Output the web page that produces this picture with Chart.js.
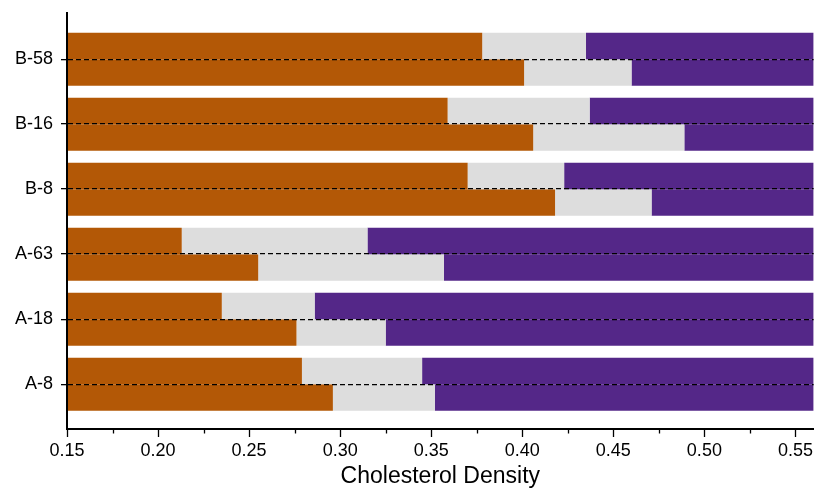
<!DOCTYPE html>
<html>
<head>
<meta charset="utf-8">
<script src="https://cdn.jsdelivr.net/npm/chart.js@4.4.0/dist/chart.umd.min.js"></script>
<style>
  html, body { margin: 0; padding: 0; background: #fff; }
  #wrap { width: 816px; height: 488px; }
</style>
</head>
<body>
<div id="wrap"><canvas id="graphe"></canvas></div>
<script>
// categories, top to bottom
const categories = ['B-58', 'B-16', 'B-8', 'A-63', 'A-18', 'A-8'];

// upper bar of each group: end of orange part, end of grey part
const orangeUpper = [0.378, 0.359, 0.370, 0.213, 0.235, 0.279];
const greyUpper = [0.435, 0.437, 0.423, 0.315, 0.286, 0.345];

// lower bar of each group
const orangeLower = [0.401, 0.406, 0.418, 0.255, 0.276, 0.296];
const greyLower = [0.460, 0.489, 0.471, 0.357, 0.325, 0.352];

const xMin = 0.15;
const xMax = 0.56;
const xTicks = [0.15, 0.20, 0.25, 0.30, 0.35, 0.40, 0.45, 0.50, 0.55];
const xMinorTicks = [0.175, 0.225, 0.275, 0.325, 0.375, 0.425, 0.475, 0.525];

const ORANGE = 'rgb(179, 88, 6)';
const GREY = 'rgb(221, 221, 221)';
const PURPLE = 'rgb(84, 39, 136)';
const POLICE = "'Liberation Sans', Arial, sans-serif";

function segments(debut, fin) {
    return categories.map(function (c, i) {
        let a = Array.isArray(debut) ? debut[i] : debut;
        let b = Array.isArray(fin) ? fin[i] : fin;
        return {y: i, x: [a, b]};
    });
}

function jeu(nom, couleur, pile, debut, fin) {
    return {
        label: nom,
        stack: pile,
        backgroundColor: couleur,
        borderWidth: 0,
        categoryPercentage: 0.815,
        barPercentage: 1.0,
        data: segments(debut, fin)
    };
}

// petits traits de graduation sur l'axe x
const minorTicksPlugin = {
    id: 'minorTicks',
    afterDraw(chart) {
        let ctx = chart.ctx;
        let x = chart.scales.x;
        let yAxe = chart.chartArea.bottom;
        ctx.save();
        ctx.strokeStyle = '#000';
        ctx.lineWidth = 1.3;
        xMinorTicks.forEach(function (v) {
            let px = Math.round(x.getPixelForValue(v)) + 0.5;
            ctx.beginPath();
            ctx.moveTo(px, yAxe);
            ctx.lineTo(px, yAxe + 4.5);
            ctx.stroke();
        });
        ctx.restore();
    }
};

let cvs = document.getElementById('graphe').getContext('2d');
let graphe = new Chart(cvs, {
    type: 'bar',
    data: {
        datasets: [
            jeu('orange haut', ORANGE, 'haut', xMin, orangeUpper),
            jeu('gris haut', GREY, 'haut', orangeUpper, greyUpper),
            jeu('violet haut', PURPLE, 'haut', greyUpper, xMax),
            jeu('orange bas', ORANGE, 'bas', xMin, orangeLower),
            jeu('gris bas', GREY, 'bas', orangeLower, greyLower),
            jeu('violet bas', PURPLE, 'bas', greyLower, xMax)
        ]
    },
    options: {
        indexAxis: 'y',
        responsive: true,
        maintainAspectRatio: false,
        animation: false,
        layout: {padding: {top: 13, right: 2, left: 0, bottom: 0}},
        plugins: {
            legend: {display: false},
            tooltip: {enabled: false}
        },
        scales: {
            x: {
                type: 'linear',
                stacked: false,
                min: xMin,
                max: xMax,
                afterBuildTicks: function (scale) {
                    scale.ticks = xTicks.map(function (v) { return {value: v}; });
                },
                afterFit: function (scale) { scale.height = 59; },
                grid: {
                    drawOnChartArea: false,
                    drawTicks: true,
                    tickLength: 8,
                    tickColor: '#000',
                    tickWidth: 1.3
                },
                border: {display: true, color: '#000', width: 2, z: 1},
                ticks: {
                    color: '#000',
                    padding: 3,
                    font: {family: POLICE, size: 18},
                    maxRotation: 0,
                    callback: function (v) { return Number(v).toFixed(2); }
                },
                title: {
                    display: true,
                    text: 'Cholesterol Density',
                    color: '#000',
                    font: {family: POLICE, size: 23, lineHeight: 1},
                    padding: {top: 2, bottom: 0}
                }
            },
            y: {
                type: 'linear',
                reverse: true,
                offset: false,
                min: -0.71,
                max: 5.69,
                afterBuildTicks: function (scale) {
                    scale.ticks = categories.map(function (c, i) { return {value: i}; });
                },
                afterFit: function (scale) {
                    scale.width = 67;
                    scale.paddingTop = 0;
                    scale.paddingBottom = 0;
                },
                grid: {
                    z: 1,
                    offset: false,
                    color: '#000',
                    lineWidth: 1.3,
                    drawTicks: true,
                    tickLength: 6,
                    tickColor: '#000',
                    tickWidth: 1.3,
                    tickBorderDash: []
                },
                border: {display: true, color: '#000', width: 2, z: 1, dash: [5, 3]},
                ticks: {
                    color: '#000',
                    padding: 8,
                    font: {family: POLICE, size: 18},
                    callback: function (v) { return categories[v]; }
                }
            }
        }
    },
    plugins: [minorTicksPlugin]
});
</script>
</body>
</html>
